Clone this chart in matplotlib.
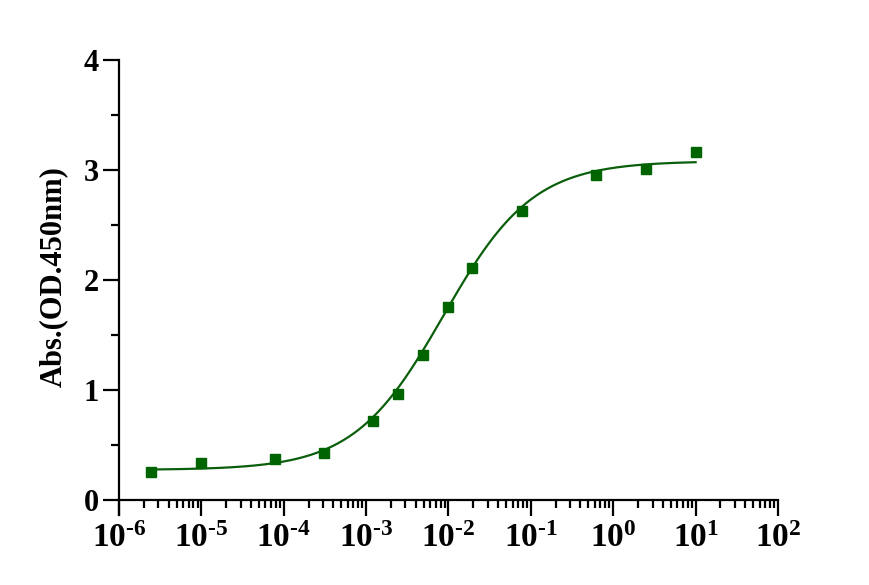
import matplotlib
matplotlib.use("Agg")
import matplotlib.pyplot as plt
import numpy as np
from matplotlib.ticker import LogLocator, MultipleLocator, FixedLocator, FuncFormatter

# measured concentrations and absorbance
conc = [2.44e-6, 9.77e-6, 7.81e-5, 3.05e-4, 1.22e-3, 2.44e-3, 4.88e-3,
        9.77e-3, 1.95e-2, 7.8e-2, 0.625, 2.5, 10.0]
absorb = [0.25, 0.335, 0.365, 0.42, 0.715, 0.965, 1.32,
          1.755, 2.105, 2.625, 2.955, 3.005, 3.16]

# four-parameter logistic fit
fit_bottom = 0.27
fit_top = 3.08
fit_ec50 = 0.0087
fit_hill = 0.8

x_decades = [-6, -5, -4, -3, -2, -1, 0, 1, 2]
y_ticks = [0, 1, 2, 3, 4]

plt.rcParams["font.family"] = ["Liberation Serif", "DejaVu Serif"]
plt.rcParams["font.weight"] = "bold"
plt.rcParams["mathtext.fontset"] = "custom"
plt.rcParams["mathtext.rm"] = "Liberation Serif:bold"
plt.rcParams["mathtext.it"] = "Liberation Serif:bold"
plt.rcParams["mathtext.bf"] = "Liberation Serif:bold"

green = "#0b5e0b"

fig = plt.figure(figsize=(8.7, 5.85), dpi=100)
ax = fig.add_axes([119 / 870, 70 / 585, 659 / 870, 455 / 585])

xs = np.logspace(np.log10(conc[0]), np.log10(conc[-1]), 400)
ys = fit_bottom + (fit_top - fit_bottom) / (1 + (fit_ec50 / xs) ** fit_hill)
ax.plot(xs, ys, color=green, lw=1.6, zorder=2)
ax.plot(conc, absorb, ls="none", marker="s", ms=7, color="#006400", zorder=3)

ax.set_xscale("log")
ax.set_xlim(10.0 ** x_decades[0], 10.0 ** x_decades[-1])
ax.set_ylim(-0.14, 4)

for s in ("top", "right"):
    ax.spines[s].set_visible(False)
ax.spines["bottom"].set_position(("data", 0))
ax.spines["left"].set_linewidth(1.6)
ax.spines["bottom"].set_linewidth(1.6)


def dec_label(v, pos):
    e = int(round(np.log10(v)))
    return r"$10^{\text{%d}}$" % e


ax.xaxis.set_major_locator(FixedLocator([10.0 ** d for d in x_decades]))
ax.xaxis.set_minor_locator(LogLocator(base=10, subs=np.arange(2, 10), numticks=20))
ax.xaxis.set_major_formatter(FuncFormatter(dec_label))
ax.xaxis.set_minor_formatter(FuncFormatter(lambda v, p: ""))

ax.yaxis.set_major_locator(FixedLocator(y_ticks))
ax.yaxis.set_minor_locator(MultipleLocator(0.5))

ax.tick_params(which="major", direction="out", length=11.5, width=1.6)
ax.tick_params(which="minor", direction="out", length=5.5, width=1.6)
ax.tick_params(axis="x", which="major", labelsize=24, pad=5)
ax.tick_params(axis="y", which="major", labelsize=22, pad=3)

ax.set_ylabel("Abs.(OD.450nm)", fontsize=22, fontweight="bold")
ax.yaxis.set_label_coords(-0.077, 0.523)

fig.savefig("out.png", dpi=100)
